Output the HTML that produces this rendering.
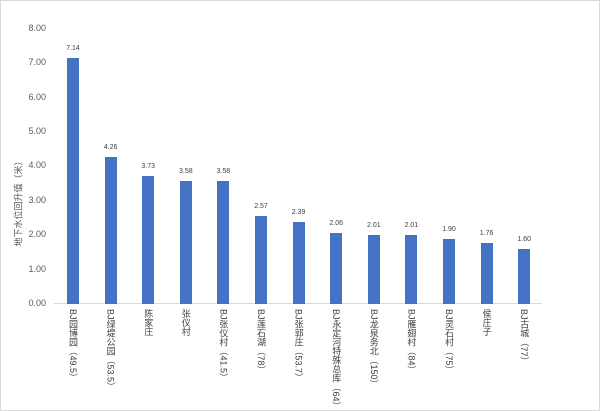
<!DOCTYPE html>
<html><head><meta charset="utf-8"><style>
body{margin:0;background:#fff}
#c{position:relative;width:598px;height:409px;border:1px solid #d9d9d9;font-family:"Liberation Sans","Noto Sans CJK SC",sans-serif;color:#595959;overflow:hidden}
.yl{position:absolute;right:553px;font-size:9px;line-height:10px;text-align:right}
.bar{position:absolute;width:12px;background:#4472c4;bottom:106px}
.v{position:absolute;font-size:7px;width:40px;text-align:center;color:#404040}
.xl{position:absolute;top:308px;writing-mode:vertical-rl;font-size:9px;line-height:11px;white-space:nowrap;color:#404040}
</style></head><body><div id="c">
<div style="position:absolute;left:53px;top:302px;width:488px;height:1px;background:#d9d9d9"></div>
<div style="position:absolute;left:-32px;top:195px;width:100px;text-align:center;transform:rotate(-90deg);font-size:9px;line-height:11px;color:#595959;white-space:nowrap">地下水位回升值（米）</div>
</div>
<script>
const c=document.getElementById('c');
for(let i=0;i<=8;i++){const d=document.createElement('div');d.className='yl';d.style.top=(302-i*34.4-5)+'px';d.textContent=i.toFixed(2);c.appendChild(d);}
const v=[7.14,4.26,3.73,3.58,3.58,2.57,2.39,2.06,2.01,2.01,1.90,1.76,1.60];
const l=["BJ园博园（49.5）","BJ绿堤公园（53.5）","陈家庄","张仪村","BJ张仪村（41.5）","BJ莲石湖（78）","BJ张郭庄（53.7）","BJ永定河特殊总库（64）","BJ龙泉务北（150）","BJ雁翅村（84）","BJ灵石村（75）","侯庄子","BJ古城（77）"];
v.forEach((x,i)=>{const cx=72+i*37.6;const h=x*34.4;
let b=document.createElement('div');b.className='bar';b.style.left=(cx-6)+'px';b.style.height=h+'px';c.appendChild(b);
let t=document.createElement('div');t.className='v';t.style.left=(cx-20)+'px';t.style.top=(302-h-12)+'px';t.textContent=x.toFixed(2);c.appendChild(t);
let s=document.createElement('div');s.className='xl';s.style.left=(cx-6)+'px';s.textContent=l[i];c.appendChild(s);});
</script></body></html>
